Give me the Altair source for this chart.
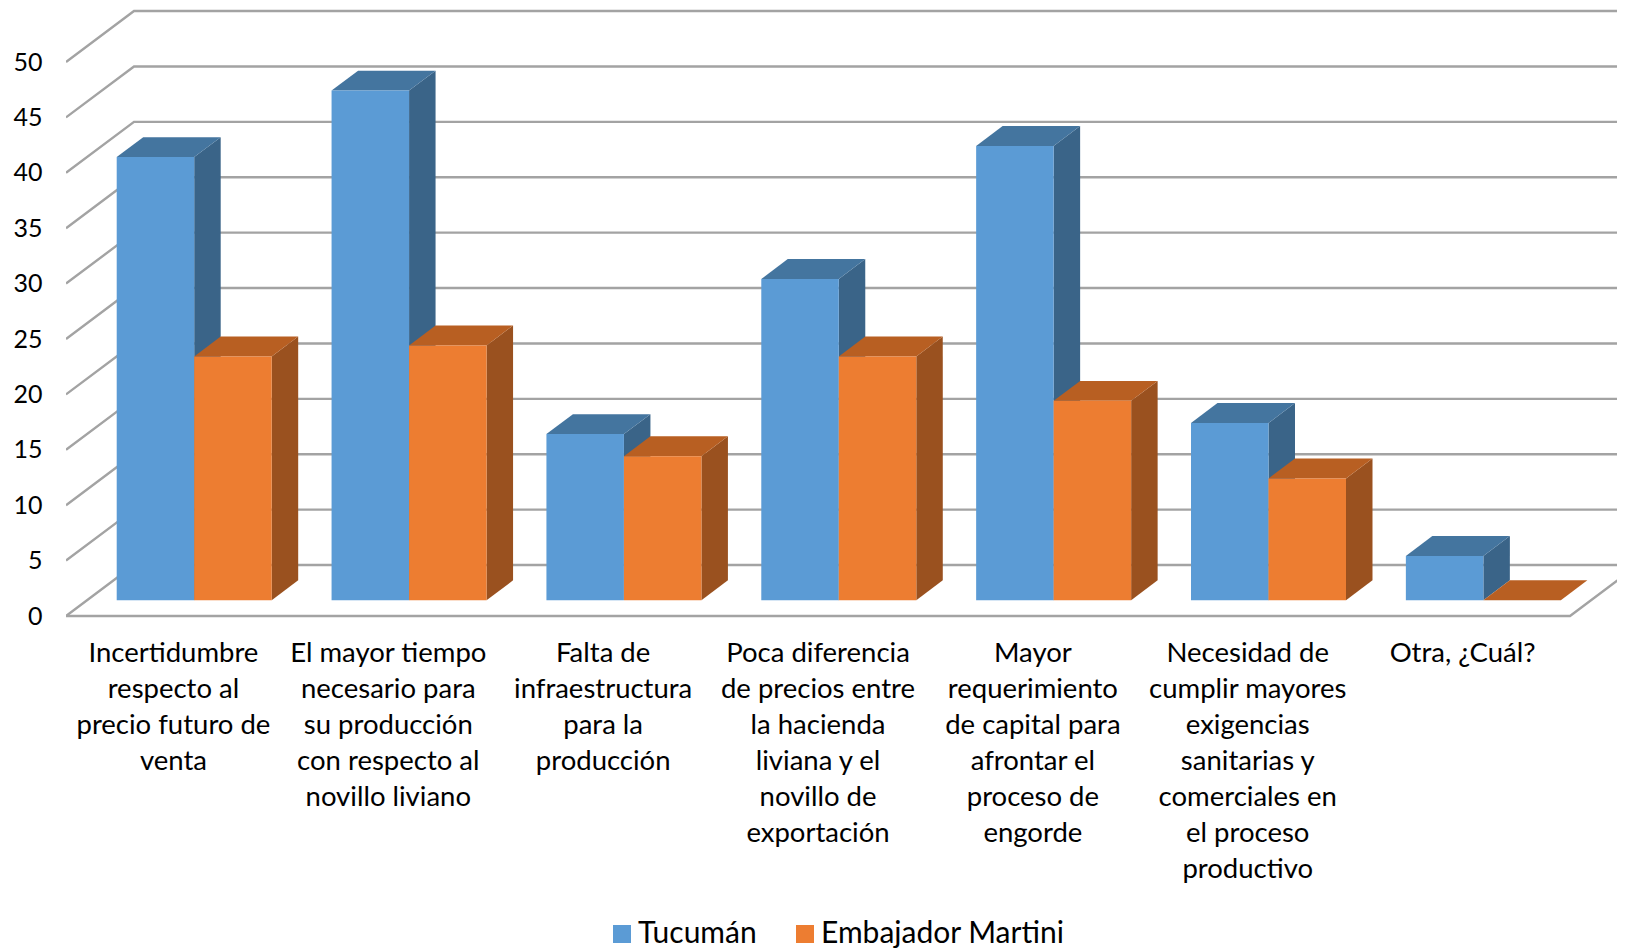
import altair as alt
import pandas as pd

categories = [
    "Incertidumbre\nrespecto al\nprecio futuro de\nventa",
    "El mayor tiempo\nnecesario para\nsu producción\ncon respecto al\nnovillo liviano",
    "Falta de\ninfraestructura\npara la\nproducción",
    "Poca diferencia\nde precios entre\nla hacienda\nliviana y el\nnovillo de\nexportación",
    "Mayor\nrequerimiento\nde capital para\nafrontar el\nproceso de\nengorde",
    "Necesidad de\ncumplir mayores\nexigencias\nsanitarias y\ncomerciales en\nel proceso\nproductivo",
    "Otra, ¿Cuál?",
]
tucuman = [40, 46, 15, 29, 41, 16, 4]
embajador = [22, 23, 13, 22, 18, 11, 0]
series_names = ["Tucumán", "Embajador Martini"]
front_colors = ["#5b9bd5", "#ed7d31"]
side_colors = ["#3a6488", "#9a511f"]
top_colors = ["#44759f", "#b85f22"]
ticks = [0, 5, 10, 15, 20, 25, 30, 35, 40, 45, 50]

# geometry in data units (category widths / value units)
N = len(categories)
WALL_DX, WALL_DY = 0.3165, 4.6
BAR_DX, BAR_DY = 0.1233, 1.8
BAR_OFF, BAR_W = 0.236, 0.3607
BASE = 1.417

PX_PER_CAT, PX_PER_VAL = 214.86, 11.08
PLOT_W, PLOT_H = 1551, 941
XMAX = PLOT_W / PX_PER_CAT
YMAX = (616 - 8) / PX_PER_VAL
YMIN = YMAX - PLOT_H / PX_PER_VAL

xs = alt.Scale(domain=[0, XMAX], nice=False, zero=False)
ys = alt.Scale(domain=[YMIN, YMAX], nice=False, zero=False)
y_axis = alt.Axis(
    values=ticks, ticks=False, domain=False, grid=False, title=None,
    labelFont="Lato", labelFontSize=25, labelColor="#000000",
    labelPadding=24, labelAlign="right", labelBaseline="middle")
X = lambda f: alt.X(f, type="quantitative", scale=xs, axis=None)
Y = lambda f: alt.Y(f, type="quantitative", scale=ys, axis=y_axis)

# wall and floor lines
grid = []
for v in ticks:
    for k, (x, y) in enumerate([(0, v), (WALL_DX, v + WALL_DY), (N + WALL_DX, v + WALL_DY)]):
        grid.append(dict(seg=f"g{v}", o=k, x=x, y=y))
for k, (x, y) in enumerate([(0, 0), (N, 0), (N + WALL_DX, WALL_DY)]):
    grid.append(dict(seg="floor", o=k, x=x, y=y))
grid_df = pd.DataFrame(grid)

layers = [
    alt.Chart(grid_df).mark_line(color="#a3a3a3", strokeWidth=2.4, clip=True).encode(
        x=X("x"), y=Y("y"), detail="seg:N", order="o:Q"),
]

front_rows = []
for s, (name, vals) in enumerate(zip(series_names, [tucuman, embajador])):
    side, top = [], []
    for i, v in enumerate(vals):
        L = i + BAR_OFF + s * BAR_W
        R = L + BAR_W
        t = BASE + v
        front_rows.append(dict(series=name, l=L, r=R, b=BASE, t=t))
        side += [
            dict(k=i, x=R, y=t, y2=BASE),
            dict(k=i, x=R + BAR_DX, y=t + BAR_DY, y2=BASE + BAR_DY),
        ]
        top += [
            dict(k=i, x=L, y=t, y2=t),
            dict(k=i, x=L + BAR_DX, y=t + BAR_DY, y2=t),
            dict(k=i, x=R, y=t + BAR_DY, y2=t),
            dict(k=i, x=R + BAR_DX, y=t + BAR_DY, y2=t + BAR_DY),
        ]
    for rows, col in [(side, side_colors[s]), (top, top_colors[s])]:
        layers.append(
            alt.Chart(pd.DataFrame(rows)).mark_area(color=col, opacity=1, clip=True).encode(
                x=X("x"), y=Y("y"), y2="y2:Q", detail="k:N")
        )
    layers.append(
        alt.Chart(pd.DataFrame([r for r in front_rows if r["series"] == name])).mark_rect(clip=True).encode(
            x=X("l"), x2="r:Q", y=Y("b"), y2="t:Q",
            color=alt.Color("series:N", scale=alt.Scale(domain=series_names, range=front_colors),
                            legend=alt.Legend(
                                title=None, orient="none", direction="horizontal",
                                legendX=541, legendY=911, labelLimit=400,
                                labelFont="Lato", labelFontSize=30, labelColor="#000000",
                                symbolType="square", symbolSize=324, symbolStrokeWidth=0,
                                labelOffset=1, columnPadding=33, padding=0)),
        )
    )

label_df = pd.DataFrame({"text": categories, "x": [i + 0.5 for i in range(N)], "y": [-2.13] * N})
layers.append(
    alt.Chart(label_df).mark_text(
        font="Lato", fontSize=27.5, color="#000000", align="center", baseline="top",
        lineBreak="\n", lineHeight=36).encode(x=X("x"), y=Y("y"), text="text:N")
)

chart = alt.layer(*layers).properties(
    width=PLOT_W, height=PLOT_H,
    padding={"left": 58, "top": 0, "right": 0, "bottom": 0},
    autosize=alt.AutoSizeParams(type="none"),
).configure_view(stroke=None)

chart.save("out.html", embed_options={"renderer": "svg", "actions": False})
